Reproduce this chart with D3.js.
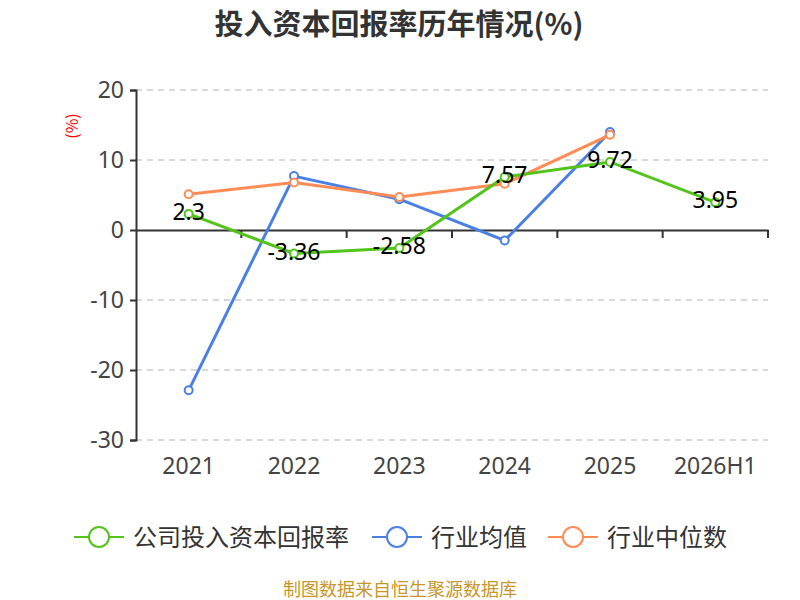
<!DOCTYPE html>
<html>
<head>
<meta charset="utf-8">
<script src="https://cdn.jsdelivr.net/npm/d3@7"></script>
<style>
  body { margin: 0; background: #fff; }
  text { font-family: "Noto Sans CJK SC", "Noto Sans", sans-serif; }
</style>
</head>
<body>
<div id="chart"></div>
<script>
const years = ['2021', '2022', '2023', '2024', '2025', '2026H1']
const companyRate = [2.3, -3.36, -2.58, 7.57, 9.72, 3.95]
const industryAvg = [-22.9, 7.7, 4.4, -1.5, 14.0, null]
const industryMedian = [5.1, 6.8, 4.7, 6.6, 13.6, null]
const yTicks = [20, 10, 0, -10, -20, -30]

const series = [
  { name: '公司投入资本回报率', values: companyRate, color: '#52c41a' },
  { name: '行业均值', values: industryAvg, color: '#4a7fe3' },
  { name: '行业中位数', values: industryMedian, color: '#ff8c55' }
]

const W = 800
const H = 600
const margin = { top: 90, left: 136, right: 32, bottom: 160 }
const numFont = '"Noto Sans", sans-serif'

const svg = d3.select('#chart')
  .append('svg')
  .attr('width', W)
  .attr('height', H)

const x = d3.scaleBand()
  .domain(years)
  .range([margin.left, W - margin.right])

const y = d3.scaleLinear()
  .domain([-30, 20])
  .range([H - margin.bottom, margin.top])

// title
svg.append('text')
  .attr('x', 399)
  .attr('y', 35)
  .attr('text-anchor', 'middle')
  .attr('font-size', 29)
  .attr('font-weight', 'bold')
  .attr('fill', '#333')
  .text('投入资本回报率历年情况(%)')

// unit label
svg.append('text')
  .attr('transform', 'translate(78,126) rotate(-90)')
  .attr('text-anchor', 'middle')
  .attr('font-size', 16)
  .attr('fill', '#ff0000')
  .text('(%)')

// grid
svg.append('g')
  .selectAll('line')
  .data(yTicks.filter(d => d !== 0))
  .enter()
  .append('line')
  .attr('x1', margin.left)
  .attr('x2', W - margin.right)
  .attr('y1', d => y(d))
  .attr('y2', d => y(d))
  .attr('stroke', '#cccccc')
  .attr('stroke-width', 1.5)
  .attr('stroke-dasharray', '6,5')

// y axis
const yAxis = d3.axisLeft(y)
  .tickValues(yTicks)
  .tickSize(6)
  .tickPadding(6)
  .tickFormat(d => String(d))
const yg = svg.append('g')
  .attr('transform', 'translate(' + margin.left + ',0)')
  .call(yAxis)
yg.select('.domain').attr('stroke', '#333').attr('stroke-width', 2)
yg.selectAll('.tick line').attr('stroke', '#333').attr('stroke-width', 2)
yg.selectAll('.tick text')
  .attr('font-size', 23)
  .attr('fill', '#444')
  .style('font-family', numFont)

// x axis at zero
const xAxis = d3.axisBottom(x).tickSize(0).tickFormat('')
const xg = svg.append('g')
  .attr('transform', 'translate(0,' + y(0) + ')')
  .call(xAxis)
xg.select('.domain').attr('stroke', '#333').attr('stroke-width', 2)
xg.selectAll('.tick').remove()
xg.selectAll('.btick')
  .data(years)
  .enter()
  .append('line')
  .attr('x1', d => x(d) + x.bandwidth())
  .attr('x2', d => x(d) + x.bandwidth())
  .attr('y1', 0)
  .attr('y2', 8)
  .attr('stroke', '#333')
  .attr('stroke-width', 2)

// category labels at bottom
svg.append('g')
  .selectAll('text')
  .data(years)
  .enter()
  .append('text')
  .attr('x', d => x(d) + x.bandwidth() / 2)
  .attr('y', H - margin.bottom + 34)
  .attr('text-anchor', 'middle')
  .attr('font-size', 23)
  .attr('fill', '#444')
  .style('font-family', numFont)
  .text(d => d)

const line = d3.line()
  .x(d => x(d.year) + x.bandwidth() / 2)
  .y(d => y(d.v))

// draw company last so it sits on top
const order = [series[1], series[2], series[0]]
order.forEach(s => {
  const pts = years.map((yr, i) => ({ year: yr, v: s.values[i] })).filter(d => d.v !== null)
  svg.append('path')
    .datum(pts)
    .attr('fill', 'none')
    .attr('stroke', s.color)
    .attr('stroke-width', 3)
    .attr('d', line)
  svg.append('g')
    .selectAll('circle')
    .data(pts)
    .enter()
    .append('circle')
    .attr('cx', d => x(d.year) + x.bandwidth() / 2)
    .attr('cy', d => y(d.v))
    .attr('r', 4)
    .attr('fill', '#fff')
    .attr('stroke', s.color)
    .attr('stroke-width', 2)
})

// data labels
const comp = years.map((yr, i) => ({ year: yr, v: companyRate[i] }))
svg.append('g')
  .selectAll('text')
  .data(comp)
  .enter()
  .append('text')
  .attr('x', d => x(d.year) + x.bandwidth() / 2)
  .attr('y', d => y(d.v) + 6)
  .attr('text-anchor', 'middle')
  .attr('font-size', 23)
  .attr('fill', '#000')
  .style('font-family', numFont)
  .text(d => d.v)

// legend
const legendX = [74, 372, 548]
const lg = svg.append('g')
series.forEach((s, i) => {
  const g = lg.append('g').attr('transform', 'translate(' + legendX[i] + ',537)')
  g.append('line')
    .attr('x1', 0).attr('x2', 50)
    .attr('y1', 0).attr('y2', 0)
    .attr('stroke', s.color)
    .attr('stroke-width', 2)
  g.append('circle')
    .attr('cx', 25).attr('cy', 0).attr('r', 10)
    .attr('fill', '#fff')
    .attr('stroke', s.color)
    .attr('stroke-width', 2)
  g.append('text')
    .attr('x', 59)
    .attr('y', 9)
    .attr('font-size', 24)
    .attr('fill', '#333')
    .text(s.name)
})

// source
svg.append('text')
  .attr('x', 400)
  .attr('y', 596)
  .attr('text-anchor', 'middle')
  .attr('font-size', 18)
  .attr('fill', '#c8962a')
  .text('制图数据来自恒生聚源数据库')
</script>
</body>
</html>
